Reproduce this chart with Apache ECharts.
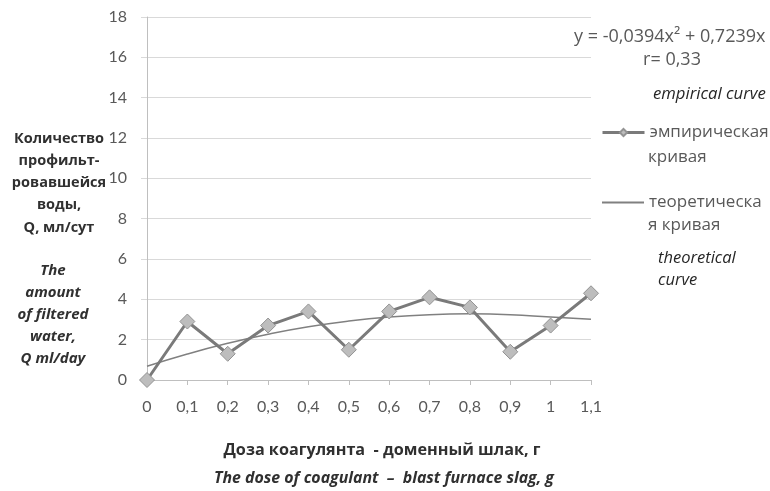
<!DOCTYPE html>
<html>
<head>
<meta charset="utf-8">
<script src="https://cdn.jsdelivr.net/npm/echarts@6/dist/echarts.min.js"></script>
<style>
  html, body { margin: 0; padding: 0; background: #fff; }
  #chart { width: 770px; height: 491px; }
</style>
</head>
<body>
<div id="chart"></div>
<script>
// Coagulant dose (g) on the category axis
const categories = ['0', '0,1', '0,2', '0,3', '0,4', '0,5', '0,6', '0,7', '0,8', '0,9', '1', '1,1'];
// Measured filtrate volume, ml/day
const empirical = [0, 2.9, 1.3, 2.7, 3.4, 1.5, 3.4, 4.1, 3.6, 1.4, 2.7, 4.3];
// Fitted (polynomial) curve values at each dose
const theoretical = [0.68, 1.29, 1.82, 2.27, 2.64, 2.92, 3.12, 3.24, 3.28, 3.24, 3.12, 3.01];
// Value axis range
const yMin = 0, yMax = 18, yStep = 2;

const seriesNames = ['эмпирическая\nкривая', 'теоретическа\nя кривая'];

const numFont = 'Lato, "Open Sans", sans-serif';
const txtFont = '"Open Sans", "Noto Sans", sans-serif';
const grey = '#595959';
const dark = '#303030';

const chart = echarts.init(document.getElementById('chart'), null, { renderer: 'canvas' });

const legendText = { color: grey, fontFamily: txtFont, fontSize: 17 };
const firstLine = name => name.split('\n')[0];
const secondLine = name => name.split('\n')[1];

// helper for free-standing captions
function caption(x, y, text, font, fill, align, lineHeight) {
  return {
    type: 'text', x: x, y: y, silent: true,
    style: { text: text, font: font, fill: fill, align: align || 'left',
             verticalAlign: 'middle', lineHeight: lineHeight }
  };
}

chart.setOption({
  animation: false,
  backgroundColor: '#fff',
  grid: { left: 147, right: 179, top: 17, bottom: 111, containLabel: false },
  xAxis: {
    type: 'category',
    data: categories,
    boundaryGap: false,
    axisLine: { lineStyle: { color: '#bfbfbf', width: 1 } },
    axisTick: { show: true, length: 5, lineStyle: { color: '#bfbfbf' } },
    axisLabel: { color: grey, fontFamily: numFont, fontSize: 16, margin: 19 }
  },
  yAxis: {
    type: 'value',
    min: yMin, max: yMax, interval: yStep,
    axisLine: { show: true, lineStyle: { color: '#bfbfbf', width: 1 } },
    axisTick: { show: true, length: 6, lineStyle: { color: '#d9d9d9' } },
    splitLine: { lineStyle: { color: '#d9d9d9', width: 1 } },
    axisLabel: { color: grey, fontFamily: numFont, fontSize: 16, margin: 20 }
  },
  legend: [
    {
      data: [{ name: seriesNames[0] }],
      formatter: firstLine,
      left: 601, top: 124, padding: 0,
      itemWidth: 42, itemHeight: 9,
      itemGap: 0,
      lineStyle: { width: 3 },
      textStyle: legendText
    },
    {
      data: [{ name: seriesNames[1], itemStyle: { opacity: 0 } }],
      formatter: firstLine,
      left: 601, top: 194, padding: 0,
      itemWidth: 42, itemHeight: 9,
      lineStyle: { width: 2 },
      textStyle: legendText
    }
  ],
  series: [
    {
      name: seriesNames[0],
      type: 'line',
      data: empirical,
      symbol: 'diamond',
      symbolSize: 15,
      lineStyle: { color: '#7a7a7a', width: 3 },
      itemStyle: { color: '#bdbdbd', borderColor: '#939393', borderWidth: 1 },
      z: 3
    },
    {
      name: seriesNames[1],
      type: 'line',
      data: theoretical,
      smooth: true,
      showSymbol: false,
      symbol: 'none',
      lineStyle: { color: '#808080', width: 1.5 },
      itemStyle: { color: '#808080' },
      z: 2
    }
  ],
  graphic: [
    // regression equation
    caption(574, 37, 'y = -0,0394x² + 0,7239x', '18px ' + txtFont, grey),
    caption(672, 60, 'r= 0,33', '18px ' + txtFont, grey, 'center'),
    // second lines of the legend entries
    caption(648, 157, secondLine(seriesNames[0]), '17px ' + txtFont, grey),
    caption(648, 225, secondLine(seriesNames[1]), '17px ' + txtFont, grey),
    // English captions next to the legend
    caption(653, 94, 'empirical curve', 'italic 16.7px ' + txtFont, '#262626'),
    caption(658, 269, 'theoretical\ncurve', 'italic 16.5px ' + txtFont, '#262626', 'left', 22),
    // Y axis title (Russian)
    caption(59, 183, 'Количество\nпрофильт-\nровавшейся\nводы,\nQ, мл/сут',
            'bold 14.5px ' + txtFont, dark, 'center', 22.3),
    // Y axis title (English)
    caption(53, 315, 'The\namount\nof filtered\nwater,\nQ ml/day',
            'italic bold 15px ' + txtFont, dark, 'center', 22),
    // X axis title (Russian)
    caption(382, 450, 'Доза коагулянта  - доменный шлак, г', 'bold 16.2px ' + txtFont, dark, 'center'),
    // X axis title (English)
    caption(384, 478, 'The dose of coagulant  –  blast furnace slag, g', 'italic bold 15.9px ' + txtFont, dark, 'center')
  ]
});
</script>
</body>
</html>
